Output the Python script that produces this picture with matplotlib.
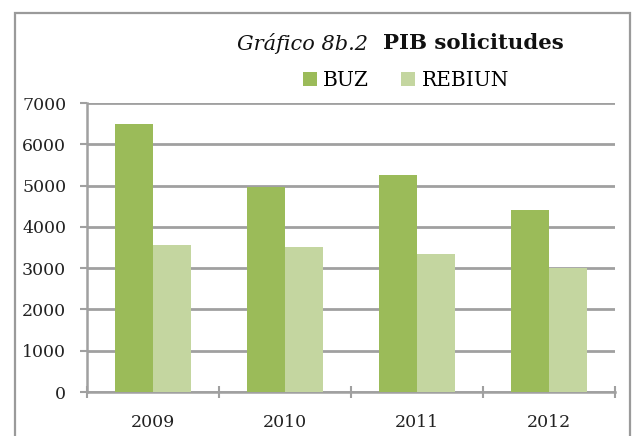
import matplotlib
matplotlib.use("Agg")
import matplotlib.pyplot as plt
from matplotlib.patches import Rectangle, Patch
import numpy as np

years = ["2009", "2010", "2011", "2012"]
buz = [6480, 4960, 5260, 4400]
rebiun = [3560, 3510, 3340, 3000]
series_names = ["BUZ", "REBIUN"]
yticks = [0, 1000, 2000, 3000, 4000, 5000, 6000, 7000]

W, H = 632, 436
fig = plt.figure(figsize=(W / 100, H / 100), dpi=100)
plt.rcParams['font.family'] = ['DejaVu Serif']

c_buz = "#9BBB59"
c_reb = "#C4D6A0"
gray = "#a0a0a0"

ax = fig.add_axes([87 / W, 1 - 392 / H, (615 - 87) / W, (392 - 103) / H])
x = np.arange(len(years))
bw = 0.29
ax.bar(x - bw / 2, buz, bw, color=c_buz, zorder=3)
ax.bar(x + bw / 2, rebiun, bw, color=c_reb, zorder=3)

ax.set_xlim(-0.5, len(years) - 0.5)
ax.set_ylim(0, 7000)
ax.set_yticks(yticks)
ax.set_yticklabels([str(v) for v in yticks], fontsize=12.5, color="#222222")
ax.yaxis.grid(True, color=gray, linewidth=2, zorder=0)
ax.set_axisbelow(True)

ax.set_xticks(np.arange(-0.5, len(years), 1.0))
ax.set_xticklabels([])
ax.set_xticks(x, minor=True)
ax.set_xticklabels(years, minor=True, fontsize=12.5, color="#222222")
ax.tick_params(axis="x", which="major", direction="inout", length=9, width=1.5, color=gray)
ax.tick_params(axis="x", which="minor", length=0, pad=16)
ax.tick_params(axis="y", direction="out", length=5, width=1.5, color=gray, pad=10)

for s in ["top", "right"]:
    ax.spines[s].set_visible(False)
for s in ["left", "bottom"]:
    ax.spines[s].set_color(gray)
    ax.spines[s].set_linewidth(1.8)

# frame around the chart
fig.add_artist(Rectangle((15 / W, -0.2), (630 - 15) / W, 1.2 - 13 / H,
                         transform=fig.transFigure, fill=False,
                         edgecolor="#9a9a9a", linewidth=1.6, clip_on=False))

# title
fig.text(368 / W, 1 - 43 / H, "Gráfico 8b.2", style="italic", fontsize=15,
         ha="right", va="center", color="#111111")
fig.text(383 / W, 1 - 43 / H, "PIB solicitudes", weight="bold", fontsize=15.3,
         ha="left", va="center", color="#111111")

handles = [Patch(facecolor=c_buz), Patch(facecolor=c_reb)]
fig.legend(handles, series_names, loc="center", bbox_to_anchor=(406 / W, 1 - 81 / H),
           ncol=2, frameon=False, fontsize=14.5, handlelength=0.7, handleheight=0.7,
           handletextpad=0.3, columnspacing=1.6)

fig.savefig("out.png", dpi=100)
